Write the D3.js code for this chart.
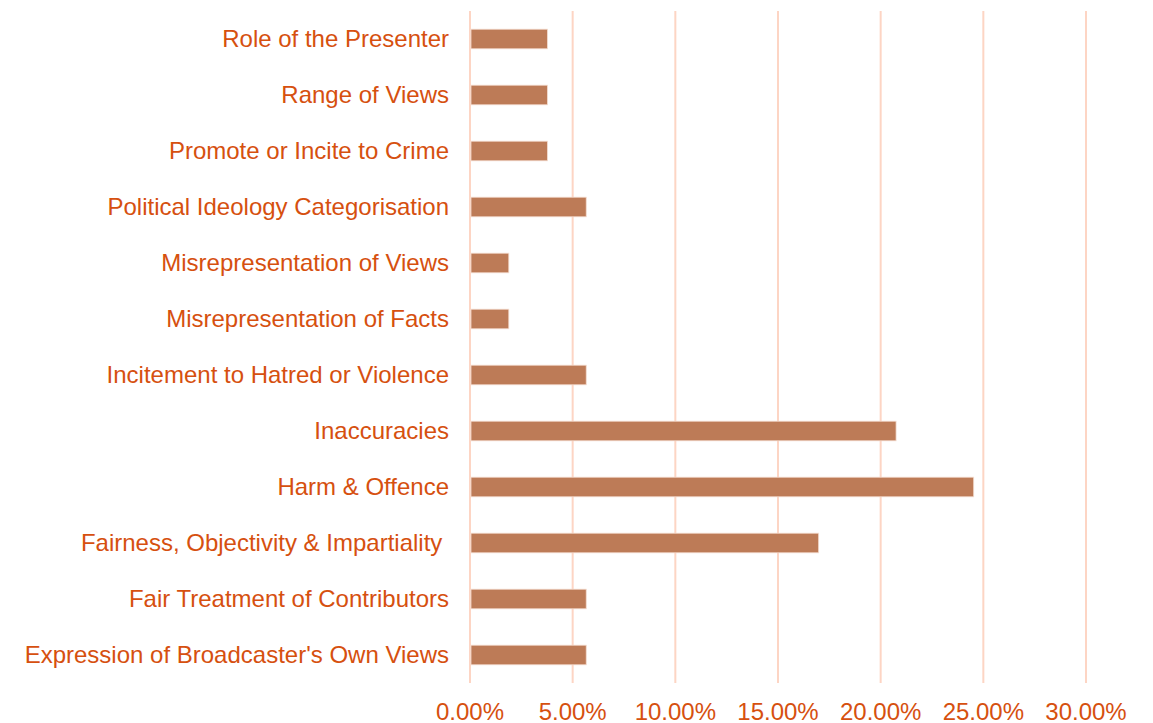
<!DOCTYPE html>
<html>
<head>
<meta charset="utf-8">
<script src="https://cdn.jsdelivr.net/npm/d3@7"></script>
<style>
  body { margin: 0; background: #fff; }
  text { font-family: "Liberation Sans", Arial, sans-serif; }
</style>
</head>
<body>
<div id="chart"></div>
<script>
// categories top to bottom
var categories = [
	"Role of the Presenter",
	"Range of Views",
	"Promote or Incite to Crime",
	"Political Ideology Categorisation",
	"Misrepresentation of Views",
	"Misrepresentation of Facts",
	"Incitement to Hatred or Violence",
	"Inaccuracies",
	"Harm & Offence",
	"Fairness, Objectivity & Impartiality ",
	"Fair Treatment of Contributors",
	"Expression of Broadcaster's Own Views"
];
// share of complaints (%)
var values = [3.77, 3.77, 3.77, 5.66, 1.89, 1.89, 5.66, 20.75, 24.53, 16.98, 5.66, 5.66];
var ticks = [0, 5, 10, 15, 20, 25, 30];

var chart_width = 1153;
var chart_height = 723;
var plot_left = 470, plot_right = 1086, plot_top = 11, plot_bottom = 683;

var textColor = '#D6500F';
var barColor = '#BD7B57';
var gridColor = '#FDD5C4';

var svg = d3.select('#chart')
	.append('svg')
	.attr('width', chart_width)
	.attr('height', chart_height);

var x = d3.scaleLinear().domain([0, 30]).range([plot_left, plot_right]);
var y = d3.scaleBand().domain(categories).range([plot_top, plot_bottom]).paddingInner(0.65).paddingOuter(0.325);

// gridlines
svg.selectAll('.grid')
	.data(ticks)
	.enter()
	.append('line')
	.attr('x1', function(d){ return x(d); })
	.attr('x2', function(d){ return x(d); })
	.attr('y1', plot_top)
	.attr('y2', plot_bottom)
	.attr('stroke', gridColor)
	.attr('stroke-width', 2);

// bars
svg.selectAll('.bar')
	.data(values)
	.enter()
	.append('rect')
	.attr('x', x(0) + 1)
	.attr('y', function(d, i){ return y(categories[i]); })
	.attr('width', function(d){ return x(d) - x(0) - 1; })
	.attr('height', y.bandwidth())
	.attr('fill', barColor)
	.attr('stroke', '#F3DCCF')
	.attr('stroke-width', 0.8);

// category labels
svg.selectAll('.cat')
	.data(categories)
	.enter()
	.append('text')
	.text(function(d){ return d; })
	.attr('x', 449)
	.attr('y', function(d){ return y(d) + y.bandwidth() / 2; })
	.attr('dy', '0.35em')
	.attr('text-anchor', 'end')
	.attr('font-size', 24)
	.attr('fill', textColor)
	.style('white-space', 'pre');

// x axis tick labels
svg.selectAll('.tick-label')
	.data(ticks)
	.enter()
	.append('text')
	.text(function(d){ return d.toFixed(2) + '%'; })
	.attr('x', function(d){ return x(d); })
	.attr('y', 720)
	.attr('text-anchor', 'middle')
	.attr('font-size', 24)
	.attr('fill', textColor);
</script>
</body>
</html>
